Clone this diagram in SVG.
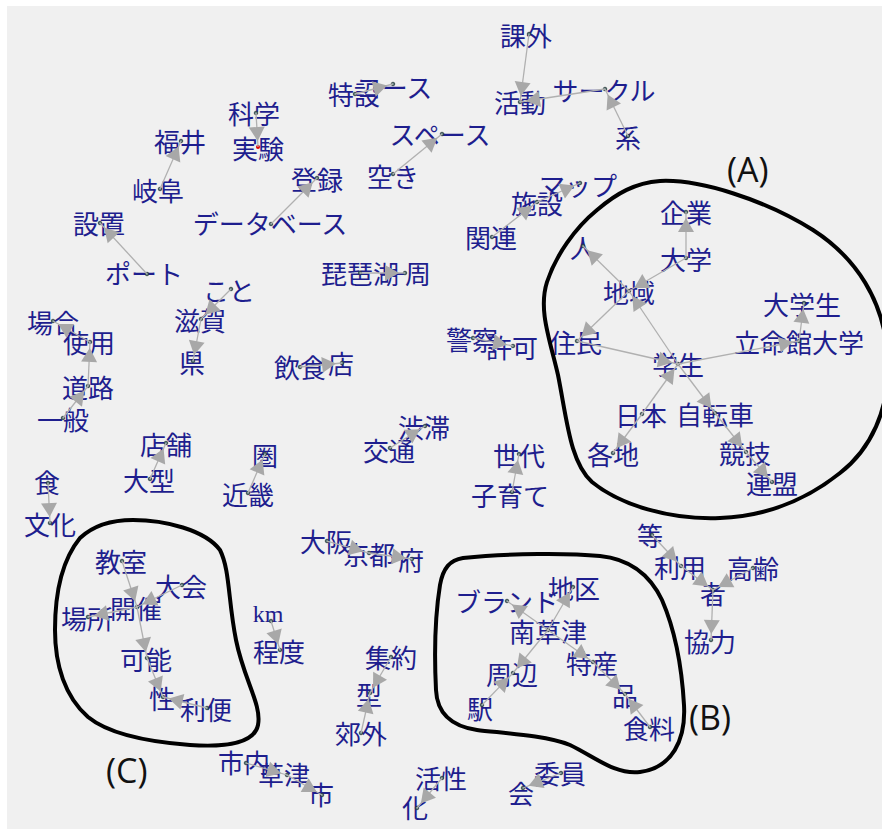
<svg xmlns="http://www.w3.org/2000/svg" width="882" height="829" viewBox="0 0 882 829">
<defs>
<style>
.t{font-family:"Noto Sans CJK JP","Noto Sans CJK SC",sans-serif;font-size:26px;fill:#1e1e8e;text-anchor:middle;dominant-baseline:central}
.k{font-family:"Liberation Serif",serif;font-size:24px;fill:#1e1e8e;text-anchor:middle}
.d{fill:#5f7f7f;stroke:#1b2b2b;stroke-width:0.7}
.e line{stroke:#b0b0b0;stroke-width:1.3;fill:none;marker-end:url(#ah)}
.b{fill:none;stroke:#000;stroke-width:4}
.lbl{font-family:"Open Sans","Liberation Sans",sans-serif;font-size:34px;fill:#111}
</style>
<marker id="ah" markerUnits="userSpaceOnUse" markerWidth="22" markerHeight="18" refX="20" refY="8" orient="auto" overflow="visible">
<path d="M0,0 L14,8 L0,16 Z" fill="#a8a8a8"/>
</marker>
</defs>
<rect x="0" y="0" width="882" height="829" fill="#ffffff"/>
<rect x="7" y="6" width="875" height="823" fill="#f0f0f0"/>

<g id="nodes">
<g id="n-kagai"><text class="t" x="526" y="34">課外</text><circle class="d" cx="529" cy="34" r="1.8"/></g>
<g id="n-katsudou"><text class="t" x="520" y="101">活動</text><circle class="d" cx="520" cy="102" r="1.8"/></g>
<g id="n-circle"><text class="t" x="604" y="89">サークル</text><circle class="d" cx="605" cy="89" r="1.8"/></g>
<g id="n-kei"><text class="t" x="628" y="136">系</text><circle class="d" cx="628" cy="136" r="1.8"/></g>
<g id="n-tokusetsu"><text class="t" x="354" y="93">特設</text><circle class="d" cx="355" cy="94" r="1.8"/></g>
<g id="n-course"><text class="t" x="394" y="86">コース</text><circle class="d" cx="393" cy="84" r="1.8"/></g>
<g id="n-space"><text class="t" x="440" y="133">スペース</text><circle class="d" cx="442" cy="134" r="1.8"/></g>
<g id="n-aki"><text class="t" x="393" y="175">空き</text><circle class="d" cx="393" cy="174" r="1.8"/></g>
<g id="n-kagaku"><text class="t" x="254" y="112">科学</text><circle class="d" cx="256" cy="113" r="1.8"/></g>
<g id="n-jikken"><text class="t" x="258" y="147">実験</text><circle cx="258" cy="147" r="2" fill="#e00000"/></g>
<g id="n-fukui"><text class="t" x="180" y="140">福井</text><circle class="d" cx="181" cy="141" r="1.8"/></g>
<g id="n-gifu"><text class="t" x="158" y="189">岐阜</text><circle class="d" cx="160" cy="189" r="1.8"/></g>
<g id="n-touroku"><text class="t" x="317" y="178">登録</text><circle class="d" cx="317" cy="178" r="1.8"/></g>
<g id="n-database"><text class="t" x="270" y="222">データベース</text><circle class="d" cx="271" cy="224" r="1.8"/></g>
<g id="n-secchi"><text class="t" x="99" y="222">設置</text><circle class="d" cx="100" cy="223" r="1.8"/></g>
<g id="n-port"><text class="t" x="144" y="272">ポート</text><circle class="d" cx="147" cy="274" r="1.8"/></g>
<g id="n-shisetsu"><text class="t" x="537" y="202">施設</text><circle class="d" cx="537" cy="202" r="1.8"/></g>
<g id="n-map"><text class="t" x="578" y="184">マップ</text><circle class="d" cx="580" cy="183" r="1.8"/></g>
<g id="n-kanren"><text class="t" x="491" y="236">関連</text><circle class="d" cx="492" cy="237" r="1.8"/></g>
<g id="n-biwako"><text class="t" x="360" y="272">琵琶湖</text><circle class="d" cx="360" cy="273" r="1.8"/></g>
<g id="n-isshuu"><text class="t" x="405" y="272">一周</text><circle class="d" cx="405" cy="273" r="1.8"/></g>
<g id="n-koto"><text class="t" x="229" y="289">こと</text><circle class="d" cx="231" cy="289" r="1.8"/></g>
<g id="n-shiga"><text class="t" x="200" y="319">滋賀</text><circle class="d" cx="201" cy="319" r="1.8"/></g>
<g id="n-ken"><text class="t" x="192" y="361">県</text><circle class="d" cx="193" cy="361" r="1.8"/></g>
<g id="n-baai"><text class="t" x="53" y="321">場合</text><circle class="d" cx="53" cy="321" r="1.8"/></g>
<g id="n-shiyou"><text class="t" x="89" y="341">使用</text><circle class="d" cx="90" cy="342" r="1.8"/></g>
<g id="n-douro"><text class="t" x="88" y="386">道路</text><circle class="d" cx="88" cy="386" r="1.8"/></g>
<g id="n-ippan"><text class="t" x="63" y="418">一般</text><circle class="d" cx="63" cy="418" r="1.8"/></g>
<g id="n-inshoku"><text class="t" x="300" y="366">飲食</text><circle class="d" cx="300" cy="367" r="1.8"/></g>
<g id="n-mise"><text class="t" x="341" y="362">店</text><circle class="d" cx="342" cy="363" r="1.8"/></g>
<g id="n-keisatsu"><text class="t" x="472" y="338">警察</text><circle class="d" cx="473" cy="338" r="1.8"/></g>
<g id="n-kyoka"><text class="t" x="512" y="346">許可</text><circle class="d" cx="513" cy="346" r="1.8"/></g>
<g id="n-juutai"><text class="t" x="424" y="426">渋滞</text><circle class="d" cx="425" cy="426" r="1.8"/></g>
<g id="n-koutsuu"><text class="t" x="389" y="449">交通</text><circle class="d" cx="390" cy="448" r="1.8"/></g>
<g id="n-sedai"><text class="t" x="519" y="454">世代</text><circle class="d" cx="519" cy="454" r="1.8"/></g>
<g id="n-kosodate"><text class="t" x="510" y="494">子育て</text><circle class="d" cx="512" cy="492" r="1.8"/></g>
<g id="n-tenpo"><text class="t" x="166" y="443">店舗</text><circle class="d" cx="166" cy="443" r="1.8"/></g>
<g id="n-oogata"><text class="t" x="149" y="479">大型</text><circle class="d" cx="150" cy="479" r="1.8"/></g>
<g id="n-ken2"><text class="t" x="265" y="454">圏</text><circle class="d" cx="265" cy="454" r="1.8"/></g>
<g id="n-kinki"><text class="t" x="248" y="493">近畿</text><circle class="d" cx="248" cy="493" r="1.8"/></g>
<g id="n-shoku"><text class="t" x="47" y="481">食</text><circle class="d" cx="48" cy="483" r="1.8"/></g>
<g id="n-bunka"><text class="t" x="50" y="523">文化</text><circle class="d" cx="50" cy="523" r="1.8"/></g>
<g id="n-kigyou"><text class="t" x="686" y="211">企業</text><circle class="d" cx="686" cy="212" r="1.8"/></g>
<g id="n-daigaku"><text class="t" x="686" y="258">大学</text><circle class="d" cx="686" cy="258" r="1.8"/></g>
<g id="n-hito"><text class="t" x="583" y="246">人</text><circle class="d" cx="583" cy="246" r="1.8"/></g>
<g id="n-chiiki"><text class="t" x="629" y="291">地域</text><circle class="d" cx="629" cy="291" r="1.8"/></g>
<g id="n-juumin"><text class="t" x="576" y="341">住民</text><circle class="d" cx="577" cy="341" r="1.8"/></g>
<g id="n-gakusei"><text class="t" x="678" y="363">学生</text><circle class="d" cx="678" cy="364" r="1.8"/></g>
<g id="n-daigakusei"><text class="t" x="802" y="303">大学生</text><circle class="d" cx="804" cy="303" r="1.8"/></g>
<g id="n-ritsumeikan"><text class="t" x="799" y="341">立命館大学</text><circle class="d" cx="799" cy="341" r="1.8"/></g>
<g id="n-nihon"><text class="t" x="641" y="414">日本</text><circle class="d" cx="642" cy="414" r="1.8"/></g>
<g id="n-jitensha"><text class="t" x="715" y="413">自転車</text><circle class="d" cx="715" cy="413" r="1.8"/></g>
<g id="n-kakuchi"><text class="t" x="613" y="453">各地</text><circle class="d" cx="613" cy="453" r="1.8"/></g>
<g id="n-kyougi"><text class="t" x="745" y="452">競技</text><circle class="d" cx="746" cy="452" r="1.8"/></g>
<g id="n-renmei"><text class="t" x="772" y="482">連盟</text><circle class="d" cx="772" cy="482" r="1.8"/></g>
<g id="n-tou"><text class="t" x="650" y="534">等</text><circle class="d" cx="652" cy="535" r="1.8"/></g>
<g id="n-riyou"><text class="t" x="680" y="566">利用</text><circle class="d" cx="681" cy="566" r="1.8"/></g>
<g id="n-kourei"><text class="t" x="753" y="567">高齢</text><circle class="d" cx="753" cy="568" r="1.8"/></g>
<g id="n-sha"><text class="t" x="713" y="592">者</text><circle class="d" cx="713" cy="590" r="1.8"/></g>
<g id="n-kyouryoku"><text class="t" x="710" y="640">協力</text><circle class="d" cx="711" cy="640" r="1.8"/></g>
<g id="n-oosaka"><text class="t" x="326" y="540">大阪</text><circle class="d" cx="327" cy="541" r="1.8"/></g>
<g id="n-kyouto"><text class="t" x="369" y="553">京都</text><circle class="d" cx="369" cy="553" r="1.8"/></g>
<g id="n-fu"><text class="t" x="411" y="558">府</text><circle class="d" cx="412" cy="559" r="1.8"/></g>
<g id="n-kyoushitsu"><text class="t" x="121" y="560">教室</text><circle class="d" cx="122" cy="561" r="1.8"/></g>
<g id="n-taikai"><text class="t" x="181" y="585">大会</text><circle class="d" cx="182" cy="585" r="1.8"/></g>
<g id="n-kaisai"><text class="t" x="136" y="607">開催</text><circle class="d" cx="137" cy="607" r="1.8"/></g>
<g id="n-basho"><text class="t" x="87" y="617">場所</text><circle class="d" cx="88" cy="617" r="1.8"/></g>
<g id="n-kanou"><text class="t" x="146" y="658">可能</text><circle class="d" cx="147" cy="658" r="1.8"/></g>
<g id="n-sei"><text class="t" x="162" y="697">性</text><circle class="d" cx="163" cy="697" r="1.8"/></g>
<g id="n-riben"><text class="t" x="206" y="708">利便</text><circle class="d" cx="207" cy="708" r="1.8"/></g>
<g id="n-km"><text class="k" x="268" y="622">km</text><circle class="d" cx="271" cy="621" r="1.8"/></g>
<g id="n-teido"><text class="t" x="279" y="650">程度</text><circle class="d" cx="280" cy="650" r="1.8"/></g>
<g id="n-chiku"><text class="t" x="574" y="587">地区</text><circle class="d" cx="573" cy="587" r="1.8"/></g>
<g id="n-brand"><text class="t" x="507" y="600">ブランド</text><circle class="d" cx="507" cy="601" r="1.8"/></g>
<g id="n-minamikusatsu"><text class="t" x="548" y="630">南草津</text><circle class="d" cx="548" cy="630" r="1.8"/></g>
<g id="n-shuuhen"><text class="t" x="512" y="673">周辺</text><circle class="d" cx="513" cy="673" r="1.8"/></g>
<g id="n-eki"><text class="t" x="480" y="707">駅</text><circle class="d" cx="482" cy="705" r="1.8"/></g>
<g id="n-tokusan"><text class="t" x="592" y="662">特産</text><circle class="d" cx="593" cy="662" r="1.8"/></g>
<g id="n-hin"><text class="t" x="625" y="694">品</text><circle class="d" cx="625" cy="694" r="1.8"/></g>
<g id="n-shokuryou"><text class="t" x="649" y="727">食料</text><circle class="d" cx="650" cy="727" r="1.8"/></g>
<g id="n-shuuyaku"><text class="t" x="391" y="656">集約</text><circle class="d" cx="391" cy="657" r="1.8"/></g>
<g id="n-kata"><text class="t" x="369" y="693">型</text><circle class="d" cx="370" cy="693" r="1.8"/></g>
<g id="n-kougai"><text class="t" x="361" y="732">郊外</text><circle class="d" cx="361" cy="733" r="1.8"/></g>
<g id="n-shinai"><text class="t" x="244" y="761">市内</text><circle class="d" cx="246" cy="763" r="1.8"/></g>
<g id="n-kusatsu"><text class="t" x="284" y="773">草津</text><circle class="d" cx="287" cy="775" r="1.8"/></g>
<g id="n-shi"><text class="t" x="321" y="793">市</text><circle class="d" cx="322" cy="795" r="1.8"/></g>
<g id="n-kassei"><text class="t" x="441" y="777">活性</text><circle class="d" cx="442" cy="778" r="1.8"/></g>
<g id="n-ka"><text class="t" x="415" y="806">化</text><circle class="d" cx="417" cy="808" r="1.8"/></g>
<g id="n-iin"><text class="t" x="560" y="772">委員</text><circle class="d" cx="561" cy="773" r="1.8"/></g>
<g id="n-kai"><text class="t" x="521" y="792">会</text><circle class="d" cx="523" cy="788" r="1.8"/></g>
</g>

<g id="connectors" class="e">
<line x1="529" y1="34" x2="520" y2="102"/>
<line x1="605" y1="89" x2="520" y2="102"/>
<line x1="628" y1="136" x2="605" y2="89"/>
<line x1="355" y1="94" x2="393" y2="84"/>
<line x1="393" y1="174" x2="442" y2="134"/>
<line x1="256" y1="113" x2="258" y2="147"/>
<line x1="160" y1="189" x2="181" y2="141"/>
<line x1="271" y1="224" x2="317" y2="178"/>
<line x1="147" y1="274" x2="100" y2="223"/>
<line x1="537" y1="202" x2="580" y2="183"/>
<line x1="492" y1="237" x2="537" y2="202"/>
<line x1="360" y1="273" x2="405" y2="273"/>
<line x1="231" y1="289" x2="201" y2="319"/>
<line x1="201" y1="319" x2="193" y2="361"/>
<line x1="90" y1="342" x2="53" y2="321"/>
<line x1="88" y1="386" x2="90" y2="342"/>
<line x1="63" y1="418" x2="88" y2="386"/>
<line x1="300" y1="367" x2="342" y2="363"/>
<line x1="473" y1="338" x2="513" y2="346"/>
<line x1="390" y1="448" x2="425" y2="426"/>
<line x1="512" y1="492" x2="519" y2="454"/>
<line x1="150" y1="479" x2="166" y2="443"/>
<line x1="248" y1="493" x2="265" y2="454"/>
<line x1="48" y1="483" x2="50" y2="523"/>
<line x1="686" y1="258" x2="686" y2="212"/>
<line x1="686" y1="258" x2="629" y2="291"/>
<line x1="629" y1="291" x2="583" y2="246"/>
<line x1="629" y1="291" x2="577" y2="341"/>
<line x1="678" y1="364" x2="629" y2="291"/>
<line x1="577" y1="341" x2="678" y2="364"/>
<line x1="678" y1="364" x2="799" y2="341"/>
<line x1="799" y1="341" x2="804" y2="303"/>
<line x1="642" y1="414" x2="678" y2="364"/>
<line x1="678" y1="364" x2="715" y2="413"/>
<line x1="642" y1="414" x2="613" y2="453"/>
<line x1="715" y1="413" x2="746" y2="452"/>
<line x1="746" y1="452" x2="772" y2="482"/>
<line x1="652" y1="535" x2="681" y2="566"/>
<line x1="681" y1="566" x2="713" y2="590"/>
<line x1="753" y1="568" x2="713" y2="590"/>
<line x1="713" y1="590" x2="711" y2="640"/>
<line x1="327" y1="541" x2="369" y2="553"/>
<line x1="369" y1="553" x2="412" y2="559"/>
<line x1="122" y1="561" x2="137" y2="607"/>
<line x1="182" y1="585" x2="137" y2="607"/>
<line x1="137" y1="607" x2="88" y2="617"/>
<line x1="137" y1="607" x2="147" y2="658"/>
<line x1="147" y1="658" x2="163" y2="697"/>
<line x1="207" y1="708" x2="163" y2="697"/>
<line x1="271" y1="621" x2="280" y2="650"/>
<line x1="548" y1="630" x2="507" y2="601"/>
<line x1="548" y1="630" x2="573" y2="587"/>
<line x1="548" y1="630" x2="593" y2="662"/>
<line x1="548" y1="630" x2="513" y2="673"/>
<line x1="482" y1="705" x2="513" y2="673"/>
<line x1="593" y1="662" x2="625" y2="694"/>
<line x1="650" y1="727" x2="625" y2="694"/>
<line x1="391" y1="657" x2="370" y2="693"/>
<line x1="361" y1="733" x2="370" y2="693"/>
<line x1="246" y1="763" x2="287" y2="775"/>
<line x1="287" y1="775" x2="322" y2="795"/>
<line x1="442" y1="778" x2="417" y2="808"/>
<line x1="561" y1="773" x2="523" y2="788"/>
</g>

<g id="clusters">
<path class="b" d="M660,181 C700,179 765,200 813,230 C855,257 885,300 888,360 C890,410 870,450 840,473 C810,497 770,516 720,518 C670,520 620,505 592,482 C570,462 567,420 558,375 C550,340 538,310 547,282 C556,255 575,228 597,210 C617,193 635,183 660,181 Z"/>
<path class="b" d="M463,558 C510,553 570,553 600,556 C630,559 650,575 662,600 C675,630 682,670 684,705 C686,740 672,768 640,772 C615,775 595,757 570,745 C545,735 500,733 477,730 C450,726 437,712 436,690 C434,650 436,610 440,585 C443,568 450,560 463,558 Z"/>
<path class="b" d="M133,520 C165,520 205,530 220,550 C230,570 228,600 236,640 C244,680 262,705 258,725 C254,745 220,747 190,745 C150,742 110,735 88,717 C65,697 55,665 55,630 C55,590 62,560 80,538 C95,524 115,520 133,520 Z"/>
<text class="lbl" x="727" y="182">(A)</text>
<text class="lbl" x="689" y="730">(B)</text>
<text class="lbl" x="106" y="783">(C)</text>
</g>
</svg>
